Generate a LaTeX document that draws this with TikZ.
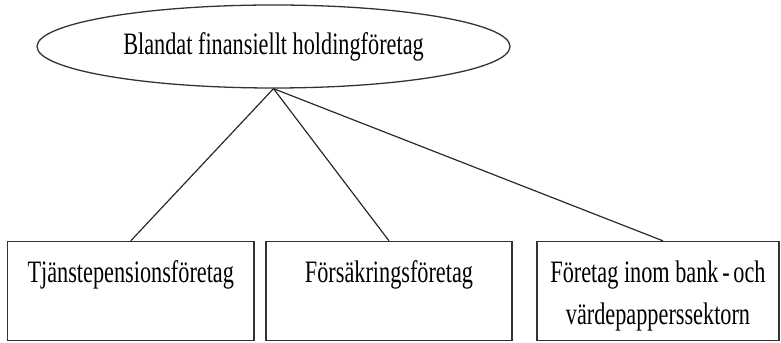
\documentclass[tikz,border=0pt]{standalone}
\usepackage{fontspec}
\setmainfont{Liberation Serif}
\usepackage{graphicx}
\usetikzlibrary{shapes.geometric}
\newcommand{\vstretch}[1]{\scalebox{1}[1.4]{#1}}

\begin{document}
\begin{tikzpicture}[x=0.03cm, y=0.03cm, % 1 unit = 1 pixel of the original
        font=\fontsize{19}{25.6}\selectfont,
        holding/.style={ellipse, draw=black!80, line width=1.1pt, minimum width=14.19cm, minimum height=2.49cm, inner sep=0pt},
        unit/.style={draw=black!80, line width=1.1pt, minimum height=2.97cm, inner sep=0pt},
        unittext/.style={anchor=base, inner sep=0pt},
        link/.style={black!85, line width=1pt}]
        \useasboundingbox (0,0) rectangle (781,343);

        % Holding company
        \node[holding] (hold) at (273.5,296.5) {\vstretch{Blandat finansiellt holdingföretag}};

        % Subsidiaries
        \node[unit, minimum width=7.395cm] (tjp) at (130.75,52) {};
        \node[unit, minimum width=7.38cm] (fors) at (389,52) {};
        \node[unit, minimum width=7.26cm] (bank) at (658,52) {};
        \node[unittext] (tjptext) at ([yshift=-1.245cm]tjp.north) {\vstretch{\begin{tabular}[t]{@{}c@{}}Tjänstepensionsföretag\end{tabular}}};
        \node[unittext] (forstext) at ([yshift=-1.245cm]fors.north) {\vstretch{\begin{tabular}[t]{@{}c@{}}Försäkringsföretag\end{tabular}}};
        \node[unittext] (banktext) at ([yshift=-1.245cm]bank.north) {\vstretch{\begin{tabular}[t]{@{}c@{}}Företag inom bank\,-\,och\\värdepapperssektorn\end{tabular}}};

        % Links
        \draw[link] (hold.south) -- (tjp.north);
        \draw[link] (hold.south) -- (fors.north);
        \draw[link] (hold.south) -- ([xshift=0.15cm]bank.north);
\end{tikzpicture}
\end{document}
